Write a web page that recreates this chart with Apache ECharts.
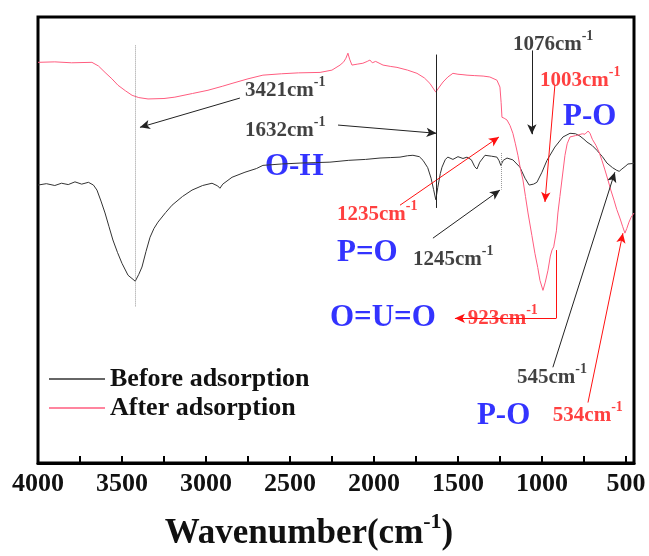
<!DOCTYPE html>
<html>
<head>
<meta charset="utf-8">
<script src="https://cdn.jsdelivr.net/npm/echarts@6/dist/echarts.min.js"></script>
<style>
  html, body { margin: 0; padding: 0; background: #fff; }
  #chart { width: 649px; height: 556px; }
</style>
</head>
<body>
<div id="chart"></div>
<script>
// FTIR spectra, wavenumber (cm-1) vs transmittance (a.u.)
var wnBefore = [4000, 3950, 3900, 3860, 3820, 3780, 3740, 3700, 3670, 3649, 3625, 3601, 3578, 3554, 3527, 3500, 3464, 3421, 3400, 3381, 3357, 3333, 3310, 3286, 3240, 3202, 3140, 3083, 3020, 2964, 2930, 2917, 2900, 2893, 2845, 2768, 2700, 2661, 2550, 2440, 2350, 2262, 2150, 2050, 1964, 1900, 1845, 1800, 1768, 1730, 1708, 1680, 1660, 1645, 1632, 1620, 1605, 1595, 1575, 1560, 1530, 1500, 1470, 1446, 1420, 1400, 1387, 1370, 1339, 1300, 1268, 1255, 1245, 1230, 1208, 1173, 1131, 1101, 1076, 1050, 1030, 1000, 970, 923, 875, 833, 800, 774, 750, 732, 700, 673, 640, 613, 580, 554, 540, 524, 500, 488, 460, 452]
var tBefore = [64.0, 64.3, 63.9, 64.4, 64.1, 64.7, 64.2, 64.6, 64.0, 62.9, 60.5, 57.9, 55.0, 52.0, 49.3, 46.9, 44.3, 43.0, 44.5, 46.1, 49.5, 52.6, 54.5, 55.9, 58.0, 59.6, 61.5, 62.9, 63.9, 64.4, 63.8, 63.3, 64.2, 64.6, 65.7, 66.8, 67.6, 68.3, 68.6, 68.8, 68.9, 69.0, 69.4, 69.6, 69.9, 70.0, 70.1, 70.4, 70.5, 70.2, 69.4, 67.8, 65.5, 63.0, 60.8, 63.5, 66.5, 67.9, 69.6, 70.1, 69.6, 70.2, 69.8, 70.1, 69.5, 68.0, 67.5, 69.0, 70.5, 70.3, 70.1, 69.3, 68.3, 69.4, 69.9, 69.5, 67.9, 65.5, 64.0, 64.2, 64.6, 66.8, 69.4, 72.3, 74.5, 75.3, 75.2, 74.7, 74.0, 73.4, 72.6, 71.6, 70.2, 68.8, 67.8, 67.2, 67.0, 67.5, 68.2, 68.6, 68.7, 68.8]

var wnAfter = [4000, 3900, 3800, 3679, 3640, 3601, 3560, 3524, 3480, 3440, 3400, 3345, 3250, 3185, 3080, 2988, 2900, 2845, 2750, 2661, 2550, 2450, 2321, 2250, 2202, 2180, 2167, 2155, 2145, 2131, 2100, 2066, 2040, 2024, 2010, 2000, 1990, 1982, 1946, 1900, 1863, 1800, 1744, 1700, 1667, 1645, 1632, 1615, 1589, 1560, 1530, 1500, 1470, 1446, 1400, 1350, 1310, 1268, 1250, 1243, 1238, 1225, 1208, 1190, 1173, 1158, 1143, 1128, 1113, 1098, 1083, 1060, 1042, 1025, 1012, 994, 980, 964, 950, 940, 930, 923, 914, 905, 893, 881, 863, 850, 833, 800, 786, 760, 744, 725, 714, 700, 679, 660, 643, 625, 607, 590, 571, 555, 536, 520, 506, 495, 482, 470, 452]
var tAfter = [90.8, 90.9, 90.7, 90.8, 90.0, 88.6, 87.2, 85.8, 84.6, 83.6, 83.1, 82.8, 82.9, 83.2, 84.0, 84.7, 85.6, 86.2, 87.2, 88.0, 88.3, 88.5, 88.6, 89.1, 90.2, 90.9, 91.7, 92.8, 91.5, 90.2, 90.4, 90.6, 91.0, 91.3, 90.7, 90.4, 91.0, 90.8, 90.2, 89.9, 89.7, 89.1, 88.4, 87.4, 86.2, 85.0, 84.3, 85.2, 86.5, 87.6, 88.4, 88.2, 88.1, 88.0, 87.9, 87.8, 87.6, 86.9, 85.4, 82.0, 78.8, 78.6, 78.2, 77.0, 75.3, 73.0, 70.5, 67.5, 65.1, 61.5, 57.9, 53.0, 49.1, 46.0, 43.2, 41.0, 42.8, 45.4, 48.5, 49.8, 50.5, 50.4, 54.0, 57.9, 61.5, 65.1, 70.5, 73.0, 74.5, 74.8, 74.9, 75.2, 75.1, 75.8, 75.3, 74.0, 72.7, 71.2, 69.4, 67.3, 65.1, 62.9, 60.7, 58.7, 56.8, 55.0, 53.5, 54.5, 55.9, 56.9, 57.9]

var xTickValues = [4000, 3750, 3500, 3250, 3000, 2750, 2500, 2250, 2000, 1750, 1500, 1250, 1000, 750, 500]
var xLabelValues = [4000, 3500, 3000, 2500, 2000, 1500, 1000, 500]

// peak annotations: anchor (left edge / vertical middle of the text)
var annoWn = [2768, 2768, 2649, 2220, 2220, 1768, 1173, 1012, 875, 2262, 1441, 1149, 1387, 935]
var annoT = [85.2, 76.4, 67.9, 58.1, 49.1, 48.3, 95.2, 87.3, 78.8, 34.9, 35.4, 22.5, 13.5, 14.2]
var annoText = ['3421', '1632', 'O-H', '1235', 'P=O', '1245', '1076', '1003', 'P-O', 'O=U=O', '923', '545', 'P-O', '534']
var annoKind = ['k', 'k', 'b', 'r', 'b', 'k', 'k', 'r', 'b', 'b', 'r', 'k', 'b', 'r']

// arrows [wn1, t1, wn2, t2]
var arrowsBlack = [
  [2798, 83.0, 3393, 76.6],
  [2214, 77.1, 1628, 75.3],
  [1649, 52.4, 1250, 62.9],
  [1060, 93.4, 1060, 75.1],
  [935, 24.2, 566, 66.8]
]
var arrowsRed = [
  [1845, 59.6, 1256, 74.5],
  [923, 85.8, 982, 60.3],
  [726, 16.5, 518, 53.5]
]

var chart = echarts.init(document.getElementById('chart'))

var serif = 'Liberation Serif'
var RED_LINE = '#ff5c7f'
var RED_TXT = '#ff1010'
var BLUE = '#0000ff'

function pairs (xs, ys) {
  return xs.map(function (x, i) { return [x, ys[i]] })
}

function arrowLines (list, color) {
  return list.map(function (a) {
    return [
      { coord: [a[0], a[1]], symbol: 'none', lineStyle: { color: color, width: 1, type: 'solid' } },
      { coord: [a[2], a[3]], symbol: 'arrow', symbolSize: [7, 10] }
    ]
  })
}

var annoData = annoText.map(function (t, i) {
  var txt = annoKind[i] === 'b' ? '{b|' + t + '}' : '{' + annoKind[i] + '|' + t + 'cm}{' + annoKind[i] + 's|-1}'
  return { value: [annoWn[i], annoT[i]], label: { formatter: txt } }
})

var guideLines = [
  [{ coord: [3421, 94.5], lineStyle: { color: '#999', type: 'dotted', width: 1 } }, { coord: [3421, 37.5] }],
  [{ coord: [1632, 92.5], lineStyle: { color: '#222', type: 'solid', width: 1 } }, { coord: [1632, 59.0] }],
  [{ coord: [1245, 71.0], lineStyle: { color: '#999', type: 'dotted', width: 1 } }, { coord: [1245, 63.0] }],
  [{ coord: [915, 49.8], lineStyle: { color: RED_TXT, type: 'solid', width: 1 } }, { coord: [915, 34.9] }],
  [{ coord: [915, 34.9], lineStyle: { color: RED_TXT, type: 'solid', width: 1 } }, { coord: [1518, 34.9], symbol: 'arrow', symbolSize: [7, 10] }]
]

chart.setOption({
  animation: false,
  grid: {
    left: 38,
    right: 15,
    top: 17,
    bottom: 93,
    outerBoundsMode: 'none',
    show: true,
    borderColor: '#000',
    borderWidth: 3,
    backgroundColor: 'transparent'
  },
  legend: {
    data: ['Before adsorption', 'After adsorption'],
    orient: 'vertical',
    left: 44,
    top: 361,
    itemWidth: 56,
    itemHeight: 1.5,
    itemGap: 3,
    icon: 'rect',
    textStyle: {
      fontFamily: serif,
      fontWeight: 'bold',
      fontSize: 26,
      color: '#111'
    }
  },
  xAxis: {
    type: 'value',
    inverse: true,
    min: 452,
    max: 4000,
    name: '{a|Wavenumber(cm}{s|-1}{a|)}',
    nameLocation: 'middle',
    nameGap: 48,
    nameTextStyle: {
      padding: [0, 54, 0, 0],
      rich: {
        a: { fontFamily: serif, fontWeight: 'bold', fontSize: 35, color: '#111', verticalAlign: 'bottom', lineHeight: 40 },
        s: { fontFamily: serif, fontWeight: 'bold', fontSize: 22, color: '#111', verticalAlign: 'top', lineHeight: 40 }
      }
    },
    axisLine: { show: true, lineStyle: { color: '#000', width: 3 } },
    axisTick: { show: true, inside: true, length: 7, lineStyle: { color: '#000', width: 2 }, customValues: xTickValues },
    axisLabel: {
      customValues: xLabelValues,
      formatter: function (v) { return String(v) },
      margin: 8,
      fontFamily: serif,
      fontWeight: 'bold',
      fontSize: 26,
      color: '#111'
    },
    splitLine: { show: false }
  },
  yAxis: {
    type: 'value',
    min: 3.3,
    max: 100.7,
    show: false,
    splitLine: { show: false }
  },
  series: [
    {
      name: 'Before adsorption',
      type: 'line',
      data: pairs(wnBefore, tBefore),
      showSymbol: false,
      color: '#333',
      lineStyle: { color: '#333', width: 1 }
    },
    {
      name: 'After adsorption',
      type: 'line',
      data: pairs(wnAfter, tAfter),
      showSymbol: false,
      color: RED_LINE,
      lineStyle: { color: RED_LINE, width: 1 }
    },
    {
      name: 'notes',
      type: 'scatter',
      silent: true,
      symbolSize: 0,
      data: annoData,
      label: {
        show: true,
        position: 'right',
        distance: 0,
        rich: {
          k: { fontFamily: serif, fontWeight: 'bold', fontSize: 21, color: '#111', verticalAlign: 'bottom', lineHeight: 26 },
          ks: { fontFamily: serif, fontWeight: 'bold', fontSize: 14, color: '#111', verticalAlign: 'top', lineHeight: 26 },
          r: { fontFamily: serif, fontWeight: 'bold', fontSize: 21, color: RED_TXT, verticalAlign: 'bottom', lineHeight: 26 },
          rs: { fontFamily: serif, fontWeight: 'bold', fontSize: 14, color: RED_TXT, verticalAlign: 'top', lineHeight: 26 },
          b: { fontFamily: serif, fontWeight: 'bold', fontSize: 31, color: BLUE }
        }
      },
      markLine: {
        silent: true,
        symbol: ['none', 'none'],
        label: { show: false },
        data: arrowLines(arrowsBlack, '#222').concat(arrowLines(arrowsRed, RED_TXT)).concat(guideLines)
      }
    }
  ]
})
</script>
</body>
</html>
